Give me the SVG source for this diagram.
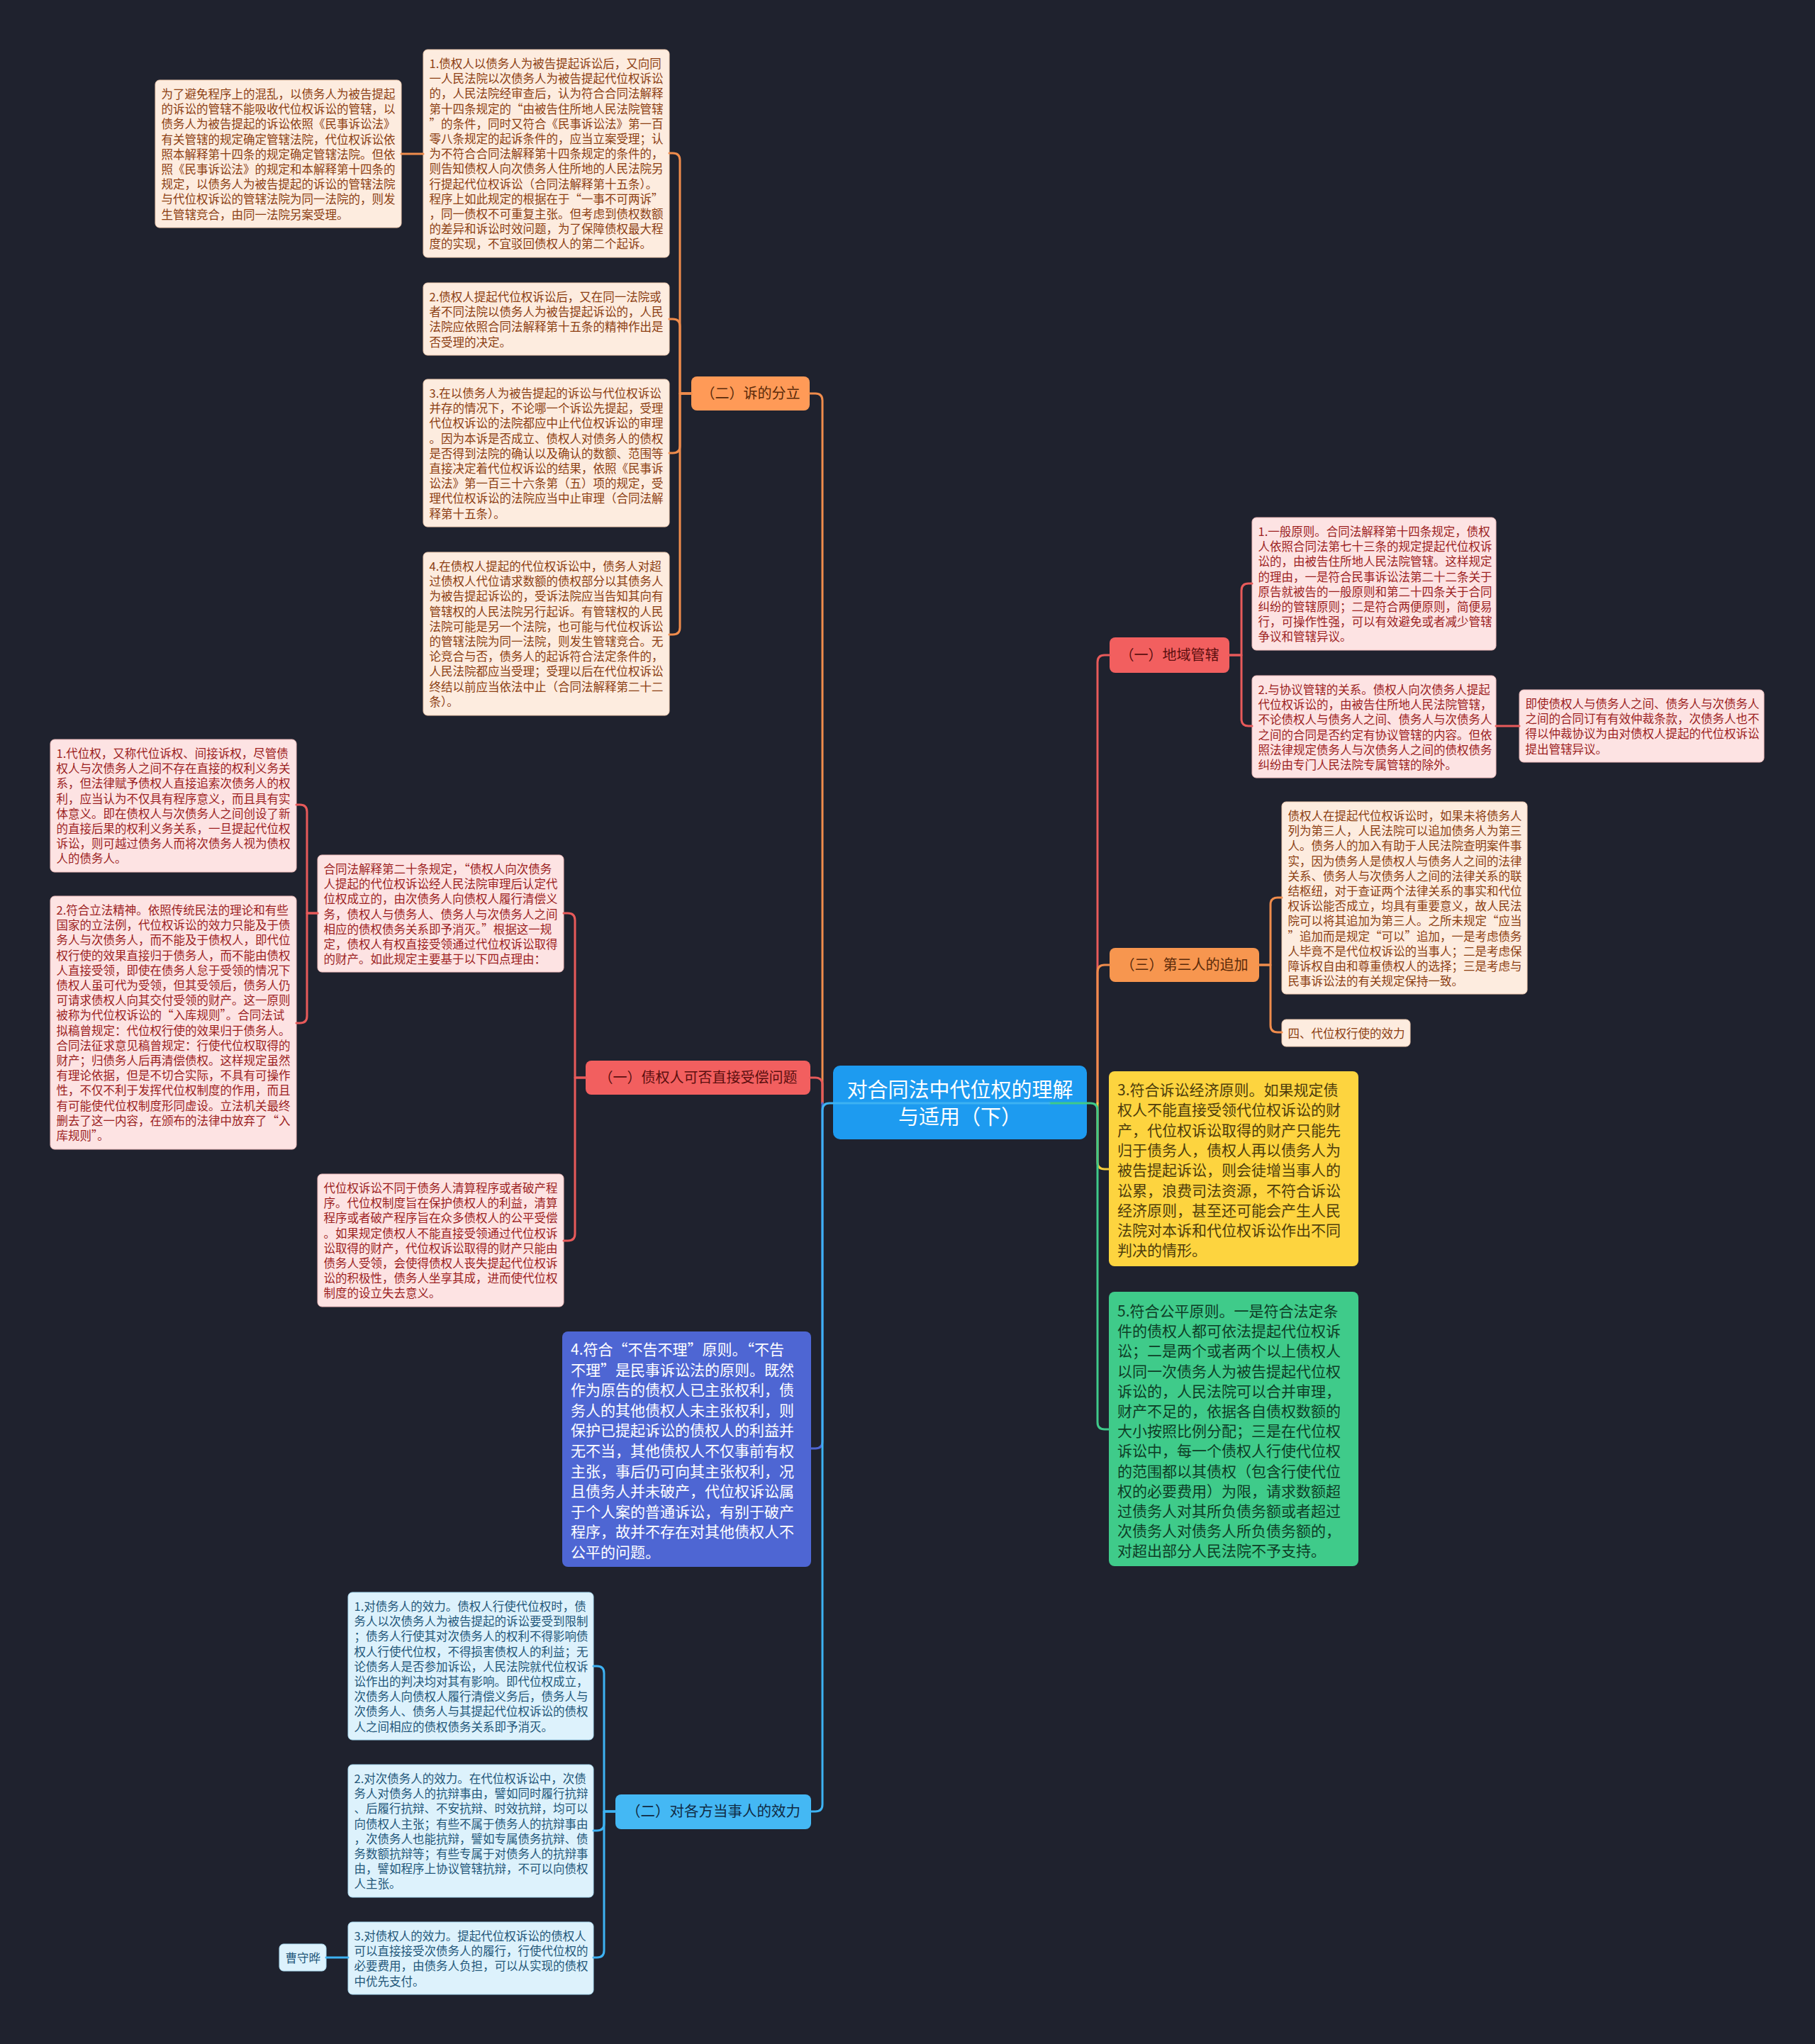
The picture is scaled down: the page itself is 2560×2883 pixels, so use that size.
<svg xmlns="http://www.w3.org/2000/svg" width="2560" height="2883" viewBox="0 0 2560 2883">
<style>
text{font-family:"Noto Sans CJK SC","Noto Sans",sans-serif}
.s{font-size:16.5px}
.l{font-size:21px}
.br{font-size:20px;text-anchor:middle}
.no{fill:#FDECDF;stroke:#F2CDB2;stroke-width:1}
.to{fill:#8C3E12}
.nr{fill:#FDE3E3;stroke:#F0BCBC;stroke-width:1}
.tr{fill:#9C1F1F}
.nb{fill:#DDF2FC;stroke:#ABDDF4;stroke-width:1}
.tb{fill:#23577A}
.c{fill:none;stroke-width:3;stroke-linecap:round;stroke-linejoin:round}
.co{stroke:#F08C4C}
.cr{stroke:#E85A5A}
.cb{stroke:#3DB2F2}
.ci{stroke:#4E66D3}
.cy{stroke:#F5CD3D}
.cg{stroke:#3FC98A}
</style>
<rect x="0" y="0" width="2560" height="2883" fill="#1F222E"/>

<g id="center">
<rect x="1175" y="1503" width="358" height="104" rx="10" fill="#1D9BF0"/>
<text x="1354" y="1548" font-size="29" fill="#FFFFFF" text-anchor="middle">对合同法中代位权的理解</text>
<text x="1354" y="1586" font-size="29" fill="#FFFFFF" text-anchor="middle">与适用（下）</text>
</g>

<g id="b-fenli">
<rect x="975" y="531" width="167" height="48" rx="8" fill="#FF9A57"/>
<text class="br" x="1058.5" y="562" fill="#5A2A0A">（二）诉的分立</text>
</g>
<g id="b-shouchang">
<rect x="826" y="1496" width="317" height="48" rx="8" fill="#F25F5F"/>
<text class="br" x="984.5" y="1527" fill="#5B0F0F">（一）债权人可否直接受偿问题</text>
</g>
<g id="b-xiaoli">
<rect x="868" y="2531" width="276" height="49" rx="8" fill="#44B8F4"/>
<text class="br" x="1006" y="2562" fill="#102A43" style="font-size:20.5px">（二）对各方当事人的效力</text>
</g>
<g id="b-diyu">
<rect x="1565" y="899" width="169" height="50" rx="8" fill="#F25F5F"/>
<text class="br" x="1649.5" y="931" fill="#5B0F0F">（一）地域管辖</text>
</g>
<g id="b-disanren">
<rect x="1565" y="1337" width="211" height="48" rx="8" fill="#F7964F"/>
<text class="br" x="1670.5" y="1368" fill="#5A2A0A">（三）第三人的追加</text>
</g>

<g id="n-bimian">
<rect class="no" x="219" y="113" width="347" height="208" rx="6"/>
<text class="s to" x="227.5" y="139"><tspan x="227.5" dy="0">为了避免程序上的混乱，以债务人为被告提起</tspan><tspan x="227.5" dy="21.2">的诉讼的管辖不能吸收代位权诉讼的管辖，以</tspan><tspan x="227.5" dy="21.2">债务人为被告提起的诉讼依照《民事诉讼法》</tspan><tspan x="227.5" dy="21.2">有关管辖的规定确定管辖法院，代位权诉讼依</tspan><tspan x="227.5" dy="21.2">照本解释第十四条的规定确定管辖法院。但依</tspan><tspan x="227.5" dy="21.2">照《民事诉讼法》的规定和本解释第十四条的</tspan><tspan x="227.5" dy="21.2">规定，以债务人为被告提起的诉讼的管辖法院</tspan><tspan x="227.5" dy="21.2">与代位权诉讼的管辖法院为同一法院的，则发</tspan><tspan x="227.5" dy="21.2">生管辖竞合，由同一法院另案受理。</tspan></text>
</g>

<g id="n-fl1">
<rect class="no" x="597" y="70" width="347" height="293" rx="6"/>
<text class="s to" x="605.5" y="96"><tspan x="605.5" dy="0">1.债权人以债务人为被告提起诉讼后，又向同</tspan><tspan x="605.5" dy="21.2">一人民法院以次债务人为被告提起代位权诉讼</tspan><tspan x="605.5" dy="21.2">的，人民法院经审查后，认为符合合同法解释</tspan><tspan x="605.5" dy="21.2">第十四条规定的“由被告住所地人民法院管辖</tspan><tspan x="605.5" dy="21.2">”的条件，同时又符合《民事诉讼法》第一百</tspan><tspan x="605.5" dy="21.2">零八条规定的起诉条件的，应当立案受理；认</tspan><tspan x="605.5" dy="21.2">为不符合合同法解释第十四条规定的条件的，</tspan><tspan x="605.5" dy="21.2">则告知债权人向次债务人住所地的人民法院另</tspan><tspan x="605.5" dy="21.2">行提起代位权诉讼（合同法解释第十五条）。</tspan><tspan x="605.5" dy="21.2">程序上如此规定的根据在于“一事不可两诉”</tspan><tspan x="605.5" dy="21.2">，同一债权不可重复主张。但考虑到债权数额</tspan><tspan x="605.5" dy="21.2">的差异和诉讼时效问题，为了保障债权最大程</tspan><tspan x="605.5" dy="21.2">度的实现，不宜驳回债权人的第二个起诉。</tspan></text>
</g>

<g id="n-fl2">
<rect class="no" x="597" y="399" width="347" height="102" rx="6"/>
<text class="s to" x="605.5" y="425"><tspan x="605.5" dy="0">2.债权人提起代位权诉讼后，又在同一法院或</tspan><tspan x="605.5" dy="21.2">者不同法院以债务人为被告提起诉讼的，人民</tspan><tspan x="605.5" dy="21.2">法院应依照合同法解释第十五条的精神作出是</tspan><tspan x="605.5" dy="21.2">否受理的决定。</tspan></text>
</g>

<g id="n-fl3">
<rect class="no" x="597" y="535" width="347" height="208" rx="6"/>
<text class="s to" x="605.5" y="561"><tspan x="605.5" dy="0">3.在以债务人为被告提起的诉讼与代位权诉讼</tspan><tspan x="605.5" dy="21.2">并存的情况下，不论哪一个诉讼先提起，受理</tspan><tspan x="605.5" dy="21.2">代位权诉讼的法院都应中止代位权诉讼的审理</tspan><tspan x="605.5" dy="21.2">。因为本诉是否成立、债权人对债务人的债权</tspan><tspan x="605.5" dy="21.2">是否得到法院的确认以及确认的数额、范围等</tspan><tspan x="605.5" dy="21.2">直接决定着代位权诉讼的结果，依照《民事诉</tspan><tspan x="605.5" dy="21.2">讼法》第一百三十六条第（五）项的规定，受</tspan><tspan x="605.5" dy="21.2">理代位权诉讼的法院应当中止审理（合同法解</tspan><tspan x="605.5" dy="21.2">释第十五条）。</tspan></text>
</g>

<g id="n-fl4">
<rect class="no" x="597" y="779" width="347" height="230" rx="6"/>
<text class="s to" x="605.5" y="805"><tspan x="605.5" dy="0">4.在债权人提起的代位权诉讼中，债务人对超</tspan><tspan x="605.5" dy="21.2">过债权人代位请求数额的债权部分以其债务人</tspan><tspan x="605.5" dy="21.2">为被告提起诉讼的，受诉法院应当告知其向有</tspan><tspan x="605.5" dy="21.2">管辖权的人民法院另行起诉。有管辖权的人民</tspan><tspan x="605.5" dy="21.2">法院可能是另一个法院，也可能与代位权诉讼</tspan><tspan x="605.5" dy="21.2">的管辖法院为同一法院，则发生管辖竞合。无</tspan><tspan x="605.5" dy="21.2">论竞合与否，债务人的起诉符合法定条件的，</tspan><tspan x="605.5" dy="21.2">人民法院都应当受理；受理以后在代位权诉讼</tspan><tspan x="605.5" dy="21.2">终结以前应当依法中止（合同法解释第二十二</tspan><tspan x="605.5" dy="21.2">条）。</tspan></text>
</g>

<g id="n-dwq1">
<rect class="nr" x="71" y="1043" width="347" height="187" rx="6"/>
<text class="s tr" x="79.5" y="1069"><tspan x="79.5" dy="0">1.代位权，又称代位诉权、间接诉权，尽管债</tspan><tspan x="79.5" dy="21.2">权人与次债务人之间不存在直接的权利义务关</tspan><tspan x="79.5" dy="21.2">系，但法律赋予债权人直接追索次债务人的权</tspan><tspan x="79.5" dy="21.2">利，应当认为不仅具有程序意义，而且具有实</tspan><tspan x="79.5" dy="21.2">体意义。即在债权人与次债务人之间创设了新</tspan><tspan x="79.5" dy="21.2">的直接后果的权利义务关系，一旦提起代位权</tspan><tspan x="79.5" dy="21.2">诉讼，则可越过债务人而将次债务人视为债权</tspan><tspan x="79.5" dy="21.2">人的债务人。</tspan></text>
</g>

<g id="n-dwq2">
<rect class="nr" x="71" y="1264" width="347" height="357" rx="6"/>
<text class="s tr" x="79.5" y="1290"><tspan x="79.5" dy="0">2.符合立法精神。依照传统民法的理论和有些</tspan><tspan x="79.5" dy="21.2">国家的立法例，代位权诉讼的效力只能及于债</tspan><tspan x="79.5" dy="21.2">务人与次债务人，而不能及于债权人，即代位</tspan><tspan x="79.5" dy="21.2">权行使的效果直接归于债务人，而不能由债权</tspan><tspan x="79.5" dy="21.2">人直接受领，即使在债务人怠于受领的情况下</tspan><tspan x="79.5" dy="21.2">债权人虽可代为受领，但其受领后，债务人仍</tspan><tspan x="79.5" dy="21.2">可请求债权人向其交付受领的财产。这一原则</tspan><tspan x="79.5" dy="21.2">被称为代位权诉讼的“入库规则”。合同法试</tspan><tspan x="79.5" dy="21.2">拟稿曾规定：代位权行使的效果归于债务人。</tspan><tspan x="79.5" dy="21.2">合同法征求意见稿曾规定：行使代位权取得的</tspan><tspan x="79.5" dy="21.2">财产；归债务人后再清偿债权。这样规定虽然</tspan><tspan x="79.5" dy="21.2">有理论依据，但是不切合实际，不具有可操作</tspan><tspan x="79.5" dy="21.2">性，不仅不利于发挥代位权制度的作用，而且</tspan><tspan x="79.5" dy="21.2">有可能使代位权制度形同虚设。立法机关最终</tspan><tspan x="79.5" dy="21.2">删去了这一内容，在颁布的法律中放弃了“入</tspan><tspan x="79.5" dy="21.2">库规则”。</tspan></text>
</g>

<g id="n-jieshi">
<rect class="nr" x="448" y="1206" width="347" height="165" rx="6"/>
<text class="s tr" x="456.5" y="1232"><tspan x="456.5" dy="0">合同法解释第二十条规定，“债权人向次债务</tspan><tspan x="456.5" dy="21.2">人提起的代位权诉讼经人民法院审理后认定代</tspan><tspan x="456.5" dy="21.2">位权成立的，由次债务人向债权人履行清偿义</tspan><tspan x="456.5" dy="21.2">务，债权人与债务人、债务人与次债务人之间</tspan><tspan x="456.5" dy="21.2">相应的债权债务关系即予消灭。”根据这一规</tspan><tspan x="456.5" dy="21.2">定，债权人有权直接受领通过代位权诉讼取得</tspan><tspan x="456.5" dy="21.2">的财产。如此规定主要基于以下四点理由：</tspan></text>
</g>

<g id="n-butong">
<rect class="nr" x="448" y="1656" width="347" height="187" rx="6"/>
<text class="s tr" x="456.5" y="1682"><tspan x="456.5" dy="0">代位权诉讼不同于债务人清算程序或者破产程</tspan><tspan x="456.5" dy="21.2">序。代位权制度旨在保护债权人的利益，清算</tspan><tspan x="456.5" dy="21.2">程序或者破产程序旨在众多债权人的公平受偿</tspan><tspan x="456.5" dy="21.2">。如果规定债权人不能直接受领通过代位权诉</tspan><tspan x="456.5" dy="21.2">讼取得的财产，代位权诉讼取得的财产只能由</tspan><tspan x="456.5" dy="21.2">债务人受领，会使得债权人丧失提起代位权诉</tspan><tspan x="456.5" dy="21.2">讼的积极性，债务人坐享其成，进而使代位权</tspan><tspan x="456.5" dy="21.2">制度的设立失去意义。</tspan></text>
</g>

<g id="n-yiban">
<rect class="nr" x="1766" y="730" width="344" height="187" rx="6"/>
<text class="s tr" x="1774.5" y="756"><tspan x="1774.5" dy="0">1.一般原则。合同法解释第十四条规定，债权</tspan><tspan x="1774.5" dy="21.2">人依照合同法第七十三条的规定提起代位权诉</tspan><tspan x="1774.5" dy="21.2">讼的，由被告住所地人民法院管辖。这样规定</tspan><tspan x="1774.5" dy="21.2">的理由，一是符合民事诉讼法第二十二条关于</tspan><tspan x="1774.5" dy="21.2">原告就被告的一般原则和第二十四条关于合同</tspan><tspan x="1774.5" dy="21.2">纠纷的管辖原则；二是符合两便原则，简便易</tspan><tspan x="1774.5" dy="21.2">行，可操作性强，可以有效避免或者减少管辖</tspan><tspan x="1774.5" dy="21.2">争议和管辖异议。</tspan></text>
</g>

<g id="n-xieyi">
<rect class="nr" x="1766" y="953" width="344" height="144" rx="6"/>
<text class="s tr" x="1774.5" y="979"><tspan x="1774.5" dy="0">2.与协议管辖的关系。债权人向次债务人提起</tspan><tspan x="1774.5" dy="21.2">代位权诉讼的，由被告住所地人民法院管辖，</tspan><tspan x="1774.5" dy="21.2">不论债权人与债务人之间、债务人与次债务人</tspan><tspan x="1774.5" dy="21.2">之间的合同是否约定有协议管辖的内容。但依</tspan><tspan x="1774.5" dy="21.2">照法律规定债务人与次债务人之间的债权债务</tspan><tspan x="1774.5" dy="21.2">纠纷由专门人民法院专属管辖的除外。</tspan></text>
</g>

<g id="n-jishi">
<rect class="nr" x="2143" y="973" width="345" height="102" rx="6"/>
<text class="s tr" x="2151.5" y="999"><tspan x="2151.5" dy="0">即使债权人与债务人之间、债务人与次债务人</tspan><tspan x="2151.5" dy="21.2">之间的合同订有有效仲裁条款，次债务人也不</tspan><tspan x="2151.5" dy="21.2">得以仲裁协议为由对债权人提起的代位权诉讼</tspan><tspan x="2151.5" dy="21.2">提出管辖异议。</tspan></text>
</g>

<g id="n-zhuijia">
<rect class="no" x="1808" y="1131" width="346" height="271" rx="6"/>
<text class="s to" x="1816.5" y="1157"><tspan x="1816.5" dy="0">债权人在提起代位权诉讼时，如果未将债务人</tspan><tspan x="1816.5" dy="21.2">列为第三人，人民法院可以追加债务人为第三</tspan><tspan x="1816.5" dy="21.2">人。债务人的加入有助于人民法院查明案件事</tspan><tspan x="1816.5" dy="21.2">实，因为债务人是债权人与债务人之间的法律</tspan><tspan x="1816.5" dy="21.2">关系、债务人与次债务人之间的法律关系的联</tspan><tspan x="1816.5" dy="21.2">结枢纽，对于查证两个法律关系的事实和代位</tspan><tspan x="1816.5" dy="21.2">权诉讼能否成立，均具有重要意义，故人民法</tspan><tspan x="1816.5" dy="21.2">院可以将其追加为第三人。之所未规定“应当</tspan><tspan x="1816.5" dy="21.2">”追加而是规定“可以”追加，一是考虑债务</tspan><tspan x="1816.5" dy="21.2">人毕竟不是代位权诉讼的当事人；二是考虑保</tspan><tspan x="1816.5" dy="21.2">障诉权自由和尊重债权人的选择；三是考虑与</tspan><tspan x="1816.5" dy="21.2">民事诉讼法的有关规定保持一致。</tspan></text>
</g>

<g id="n-si">
<rect class="no" x="1808" y="1438" width="181" height="38" rx="6"/>
<text class="s to" x="1816.5" y="1464">四、代位权行使的效力</text>
</g>

<g id="n-jingji">
<rect x="1564" y="1511" width="352" height="275" rx="8" fill="#FDD43F"/>
<text class="l" fill="#4E3D0C" x="1576" y="1545"><tspan x="1576" dy="0">3.符合诉讼经济原则。如果规定债</tspan><tspan x="1576" dy="28.3">权人不能直接受领代位权诉讼的财</tspan><tspan x="1576" dy="28.3">产，代位权诉讼取得的财产只能先</tspan><tspan x="1576" dy="28.3">归于债务人，债权人再以债务人为</tspan><tspan x="1576" dy="28.3">被告提起诉讼，则会徒增当事人的</tspan><tspan x="1576" dy="28.3">讼累，浪费司法资源，不符合诉讼</tspan><tspan x="1576" dy="28.3">经济原则，甚至还可能会产生人民</tspan><tspan x="1576" dy="28.3">法院对本诉和代位权诉讼作出不同</tspan><tspan x="1576" dy="28.3">判决的情形。</tspan></text>
</g>

<g id="n-gongping">
<rect x="1564" y="1822" width="352" height="387" rx="8" fill="#3FCB8A"/>
<text class="l" fill="#0E3D26" x="1576" y="1857"><tspan x="1576" dy="0">5.符合公平原则。一是符合法定条</tspan><tspan x="1576" dy="28.2">件的债权人都可依法提起代位权诉</tspan><tspan x="1576" dy="28.2">讼；二是两个或者两个以上债权人</tspan><tspan x="1576" dy="28.2">以同一次债务人为被告提起代位权</tspan><tspan x="1576" dy="28.2">诉讼的，人民法院可以合并审理，</tspan><tspan x="1576" dy="28.2">财产不足的，依据各自债权数额的</tspan><tspan x="1576" dy="28.2">大小按照比例分配；三是在代位权</tspan><tspan x="1576" dy="28.2">诉讼中，每一个债权人行使代位权</tspan><tspan x="1576" dy="28.2">的范围都以其债权（包含行使代位</tspan><tspan x="1576" dy="28.2">权的必要费用）为限，请求数额超</tspan><tspan x="1576" dy="28.2">过债务人对其所负债务额或者超过</tspan><tspan x="1576" dy="28.2">次债务人对债务人所负债务额的，</tspan><tspan x="1576" dy="28.2">对超出部分人民法院不予支持。</tspan></text>
</g>

<g id="n-bugao">
<rect x="793" y="1878" width="351" height="332" rx="8" fill="#4E66D3"/>
<text class="l" fill="#FFFFFF" x="805" y="1911"><tspan x="805" dy="0">4.符合“不告不理”原则。“不告</tspan><tspan x="805" dy="28.6">不理”是民事诉讼法的原则。既然</tspan><tspan x="805" dy="28.6">作为原告的债权人已主张权利，债</tspan><tspan x="805" dy="28.6">务人的其他债权人未主张权利，则</tspan><tspan x="805" dy="28.6">保护已提起诉讼的债权人的利益并</tspan><tspan x="805" dy="28.6">无不当，其他债权人不仅事前有权</tspan><tspan x="805" dy="28.6">主张，事后仍可向其主张权利，况</tspan><tspan x="805" dy="28.6">且债务人并未破产，代位权诉讼属</tspan><tspan x="805" dy="28.6">于个人案的普通诉讼，有别于破产</tspan><tspan x="805" dy="28.6">程序，故并不存在对其他债权人不</tspan><tspan x="805" dy="28.6">公平的问题。</tspan></text>
</g>

<g id="n-xl1">
<rect class="nb" x="491" y="2246" width="346" height="208" rx="6"/>
<text class="s tb" x="499.5" y="2272"><tspan x="499.5" dy="0">1.对债务人的效力。债权人行使代位权时，债</tspan><tspan x="499.5" dy="21.2">务人以次债务人为被告提起的诉讼要受到限制</tspan><tspan x="499.5" dy="21.2">；债务人行使其对次债务人的权利不得影响债</tspan><tspan x="499.5" dy="21.2">权人行使代位权，不得损害债权人的利益；无</tspan><tspan x="499.5" dy="21.2">论债务人是否参加诉讼，人民法院就代位权诉</tspan><tspan x="499.5" dy="21.2">讼作出的判决均对其有影响。即代位权成立，</tspan><tspan x="499.5" dy="21.2">次债务人向债权人履行清偿义务后，债务人与</tspan><tspan x="499.5" dy="21.2">次债务人、债务人与其提起代位权诉讼的债权</tspan><tspan x="499.5" dy="21.2">人之间相应的债权债务关系即予消灭。</tspan></text>
</g>

<g id="n-xl2">
<rect class="nb" x="491" y="2489" width="346" height="187" rx="6"/>
<text class="s tb" x="499.5" y="2515"><tspan x="499.5" dy="0">2.对次债务人的效力。在代位权诉讼中，次债</tspan><tspan x="499.5" dy="21.2">务人对债务人的抗辩事由，譬如同时履行抗辩</tspan><tspan x="499.5" dy="21.2">、后履行抗辩、不安抗辩、时效抗辩，均可以</tspan><tspan x="499.5" dy="21.2">向债权人主张；有些不属于债务人的抗辩事由</tspan><tspan x="499.5" dy="21.2">，次债务人也能抗辩，譬如专属债务抗辩、债</tspan><tspan x="499.5" dy="21.2">务数额抗辩等；有些专属于对债务人的抗辩事</tspan><tspan x="499.5" dy="21.2">由，譬如程序上协议管辖抗辩，不可以向债权</tspan><tspan x="499.5" dy="21.2">人主张。</tspan></text>
</g>

<g id="n-xl3">
<rect class="nb" x="491" y="2711" width="346" height="102" rx="6"/>
<text class="s tb" x="499.5" y="2737"><tspan x="499.5" dy="0">3.对债权人的效力。提起代位权诉讼的债权人</tspan><tspan x="499.5" dy="21.2">可以直接接受次债务人的履行，行使代位权的</tspan><tspan x="499.5" dy="21.2">必要费用，由债务人负担，可以从实现的债权</tspan><tspan x="499.5" dy="21.2">中优先支付。</tspan></text>
</g>

<g id="n-cao">
<rect class="nb" x="394" y="2742" width="66" height="38" rx="6"/>
<text class="s tb" x="402.5" y="2768">曹守晔</text>
</g>

<g id="connectors">
<path class="c co" d="M1160,1556 V565 Q1160,555 1150,555 H1142"/>
<path class="c cr" d="M1160,1556 V1530 Q1160,1520 1150,1520 H1143"/>
<path class="c ci" d="M1160,1556 V2033 Q1160,2043 1150,2043 H1144"/>
<path class="c cr" d="M1548,1556 V934 Q1548,924 1558,924 H1565"/>
<path class="c co" d="M1548,1556 V1371 Q1548,1361 1558,1361 H1565"/>
<path class="c cy" d="M1548,1556 V1639 Q1548,1649 1558,1649 H1564"/>
<path class="c cg" d="M1480,1556 H1538 Q1548,1556 1548,1566 V2006 Q1548,2016 1558,2016 H1564"/>
<path class="c cb" d="M1480,1556 H1170 Q1160,1556 1160,1566 V2545 Q1160,2555 1150,2555 H1144"/>

<path class="c co" d="M975,555 H959 V226 Q959,216 949,216 H944"/>
<path class="c co" d="M975,555 H959 V460 Q959,450 949,450 H944"/>
<path class="c co" d="M975,555 H959 V629 Q959,639 949,639 H944"/>
<path class="c co" d="M975,555 H959 V885 Q959,895 949,895 H944"/>
<path class="c co" d="M597,217 H566"/>

<path class="c cr" d="M826,1520 H811 V1298 Q811,1288 801,1288 H795"/>
<path class="c cr" d="M826,1520 H811 V1740 Q811,1750 801,1750 H795"/>
<path class="c cr" d="M448,1288 H433 V1145 Q433,1135 423,1135 H418"/>
<path class="c cr" d="M448,1288 H433 V1433 Q433,1443 423,1443 H418"/>

<path class="c cb" d="M868,2555 H852 V2360 Q852,2350 842,2350 H837"/>
<path class="c cb" d="M868,2555 H852 V2572 Q852,2582 842,2582 H837"/>
<path class="c cb" d="M868,2555 H852 V2751 Q852,2761 842,2761 H837"/>
<path class="c cb" d="M491,2761 H460"/>

<path class="c cr" d="M1734,924 H1751 V833 Q1751,823 1761,823 H1766"/>
<path class="c cr" d="M1734,924 H1751 V1014 Q1751,1024 1761,1024 H1766"/>
<path class="c cr" d="M2110,1024 H2143"/>

<path class="c co" d="M1776,1361 H1792 V1276 Q1792,1266 1802,1266 H1808"/>
<path class="c co" d="M1776,1361 H1792 V1446 Q1792,1456 1802,1456 H1808"/>
</g>
</svg>
